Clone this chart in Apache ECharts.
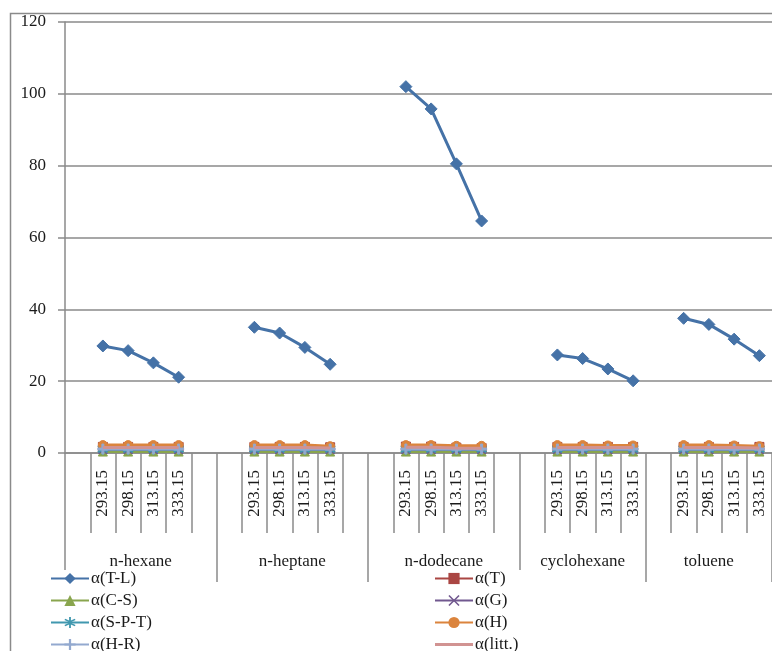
<!DOCTYPE html>
<html>
<head>
<meta charset="utf-8">
<script src="https://cdn.jsdelivr.net/npm/echarts@6/dist/echarts.min.js"></script>
<style>
  html, body { margin: 0; padding: 0; background: #fff; }
  #chart { width: 772px; height: 651px; }
</style>
</head>
<body>
<div id="chart"></div>
<script>
// Solvents (outer category level) and how many slots each one spans
const solvents = ['n-hexane', 'n-heptane', 'n-dodecane', 'cyclohexane', 'toluene'];
const solventSlots = [6, 6, 6, 5, 5];
// Temperatures (inner category level), K
const temperatures = ['293.15', '298.15', '313.15', '333.15'];
// Y axis ticks
const yTicks = [0, 20, 40, 60, 80, 100, 120];

// Values per solvent, four temperatures each
const aTL  = [29.8, 28.5, 25.1, 21.1,  35.0, 33.4, 29.4, 24.7,  102.0, 95.8, 80.5, 64.6,  27.3, 26.3, 23.4, 20.1,  37.5, 35.8, 31.7, 27.1];
const aT   = [1.7, 1.7, 1.7, 1.7,  1.7, 1.7, 1.7, 1.6,  1.8, 1.8, 1.5, 1.4,  1.7, 1.7, 1.7, 1.7,  1.7, 1.7, 1.7, 1.7];
const aCS  = [0.4, 0.4, 0.4, 0.4,  0.4, 0.4, 0.4, 0.4,  0.4, 0.4, 0.4, 0.4,  0.4, 0.4, 0.4, 0.4,  0.4, 0.4, 0.4, 0.4];
const aG   = [1.0, 1.0, 1.0, 1.0,  1.0, 1.0, 1.0, 1.0,  1.0, 1.0, 1.0, 1.0,  1.0, 1.0, 1.0, 1.0,  1.0, 1.0, 1.0, 1.0];
const aSPT = [1.1, 1.1, 1.1, 1.1,  1.1, 1.1, 1.1, 1.1,  1.1, 1.1, 1.1, 1.1,  1.1, 1.1, 1.1, 1.1,  1.1, 1.1, 1.1, 1.1];
const aH   = [2.2, 2.2, 2.2, 2.2,  2.2, 2.2, 2.2, 1.9,  2.2, 2.2, 2.0, 2.0,  2.2, 2.2, 2.1, 2.1,  2.2, 2.2, 2.1, 1.9];
const aHR  = [1.1, 1.1, 1.1, 1.1,  1.1, 1.1, 1.1, 1.1,  1.1, 1.1, 1.1, 1.1,  1.1, 1.1, 1.1, 1.1,  1.1, 1.1, 1.1, 1.1];
const aLit = [1.5, 1.5, 1.5, 1.5,  1.5, 1.5, 1.5, 1.4,  1.6, 1.6, 1.4, 1.3,  1.5, 1.5, 1.5, 1.5,  1.5, 1.5, 1.5, 1.4];

// Build the slot layout: one blank slot before each solvent's temperatures,
// and blank padding after them up to the solvent's slot count.
const slotLabels = [];
const slotIndex = [];          // index into the value arrays, or -1 for a blank slot
const groupBounds = [0];
const groupCenters = [];
const innerTicks = [];
solvents.forEach((s, g) => {
  const start = slotLabels.length;
  slotLabels.push(''); slotIndex.push(-1);
  temperatures.forEach((t, k) => {
    innerTicks.push(slotLabels.length);
    slotLabels.push(t); slotIndex.push(g * temperatures.length + k);
  });
  innerTicks.push(slotLabels.length);
  while (slotLabels.length - start < solventSlots[g]) { slotLabels.push(''); slotIndex.push(-1); }
  groupBounds.push(slotLabels.length);
  groupCenters.push((start + slotLabels.length) / 2);
});
const nSlots = slotLabels.length;
const expand = vals => slotIndex.map(i => (i < 0 ? null : vals[i]));

const font = "'Liberation Serif', 'Times New Roman', serif";
const gray = '#8a8a8a';

function lineSeries(name, vals, color, symbol, size, z) {
  return {
    name, type: 'line', data: expand(vals), xAxisIndex: 0,
    symbol, symbolSize: size, showSymbol: symbol !== 'none',
    connectNulls: false, z,
    lineStyle: { color, width: 3 },
    itemStyle: { color, borderColor: color },
    emphasis: { disabled: true },
    animation: false
  };
}

const plusPath = 'path://M4,0 L6,0 L6,4 L10,4 L10,6 L6,6 L6,10 L4,10 L4,6 L0,6 L0,4 L4,4 Z';
const crossPath = 'path://M1,0 L5,4 L9,0 L10,1 L6,5 L10,9 L9,10 L5,6 L1,10 L0,9 L4,5 L0,1 Z';
const starPath = 'path://M4.3,0 L5.7,0 L5.7,3.3 L8.6,1.6 L9.3,2.8 L6.4,4.4 L6.4,5.6 L9.3,7.2 L8.6,8.4 L5.7,6.7 L5.7,10 L4.3,10 L4.3,6.7 L1.4,8.4 L0.7,7.2 L3.6,5.6 L3.6,4.4 L0.7,2.8 L1.4,1.6 L4.3,3.3 Z';
// Plain line legend icon (no marker), kept the full icon height so it stays centred
const plainLineIcon = 'path://M0,0 L38,0 L38,0.01 L0,0.01 Z M0,5.5 L38,5.5 L38,8.5 L0,8.5 Z M0,13.99 L38,13.99 L38,14 L0,14 Z';

const legendCommon = {
  orient: 'vertical', top: 570, height: 140, itemWidth: 38, itemHeight: 14, itemGap: 5,
  padding: [0, 4, 0, 0], backgroundColor: '#fff',
  textStyle: { fontSize: 17, color: '#1a1a1a', fontFamily: font, padding: [0, 0, 0, -3] },
  selectedMode: false
};

const chart = echarts.init(document.getElementById('chart'), null, { renderer: 'canvas' });
chart.setOption({
  animation: false,
  backgroundColor: '#fff',
  textStyle: { fontFamily: font },
  grid: { left: 65, top: 22, width: nSlots * 25.7, height: 431, containLabel: false },
  graphic: [{
    type: 'rect', silent: true, z: -1,
    shape: { x: 10.5, y: 13.5, width: 900, height: 800 },
    style: { fill: 'none', stroke: gray, lineWidth: 1.5 }
  }],
  xAxis: [
    {
      type: 'category', data: slotLabels, boundaryGap: true, position: 'bottom',
      axisLine: { show: true, lineStyle: { color: gray, width: 1.5 } },
      axisTick: { show: false },
      axisLabel: { interval: 0, rotate: 90, margin: 17, fontSize: 17, color: '#1a1a1a', fontFamily: font },
      splitLine: { show: false }
    },
    {
      type: 'value', min: 0, max: nSlots, position: 'bottom',
      axisLine: { show: false },
      axisTick: { show: true, customValues: innerTicks, length: 80, lineStyle: { color: gray, width: 1.5 } },
      axisLabel: { show: false },
      splitLine: { show: false }
    },
    {
      type: 'value', min: 0, max: nSlots, position: 'bottom',
      axisLine: { show: false },
      axisTick: { show: true, customValues: groupBounds, length: 129, lineStyle: { color: gray, width: 1.5 } },
      axisLabel: {
        show: true, customValues: groupCenters, margin: 100, fontSize: 17, color: '#1a1a1a', fontFamily: font,
        formatter: v => solvents[groupCenters.indexOf(v)] || ''
      },
      splitLine: { show: false }
    }
  ],
  yAxis: {
    type: 'value', min: yTicks[0], max: yTicks[yTicks.length - 1], interval: 20,
    axisLine: { show: true, lineStyle: { color: gray, width: 1.5 } },
    axisTick: { show: true, length: 7, inside: false, lineStyle: { color: gray, width: 1.5 } },
    axisLabel: { margin: 19, fontSize: 17, color: '#1a1a1a', fontFamily: font },
    splitLine: { show: true, lineStyle: { color: gray, width: 1.5 } }
  },
  legend: [
    Object.assign({ data: ['α(T-L)', 'α(C-S)', 'α(S-P-T)', 'α(H-R)'], left: 50 }, legendCommon),
    Object.assign({ data: ['α(T)', 'α(G)', 'α(H)', { name: 'α(litt.)', icon: plainLineIcon, itemStyle: { color: '#D19392' } }], left: 434 }, legendCommon)
  ],
  series: [
    lineSeries('α(T-L)', aTL, '#4572A7', 'diamond', 12, 10),
    lineSeries('α(T)', aT, '#AA4643', 'rect', 9, 3),
    lineSeries('α(C-S)', aCS, '#89A54E', 'triangle', 9, 2),
    lineSeries('α(G)', aG, '#71588F', crossPath, 9, 4),
    lineSeries('α(S-P-T)', aSPT, '#4198AF', starPath, 10, 5),
    lineSeries('α(H)', aH, '#DB843D', 'circle', 9, 6),
    lineSeries('α(H-R)', aHR, '#93A9CF', plusPath, 10, 7),
    lineSeries('α(litt.)', aLit, '#D19392', 'none', 0, 8)
  ]
});
</script>
</body>
</html>
